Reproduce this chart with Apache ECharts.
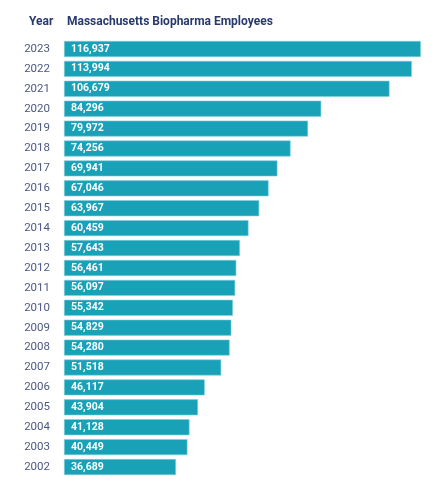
<!DOCTYPE html>
<html>
<head>
<meta charset="utf-8">
<script src="https://cdn.jsdelivr.net/npm/echarts@6/dist/echarts.min.js"></script>
<style>
  html, body { margin: 0; padding: 0; background: #fff; }
  #main { width: 435px; height: 500px; }
</style>
</head>
<body>
<div id="main"></div>
<script>
// years, top to bottom as in the picture
const years = ['2023', '2022', '2021', '2020', '2019', '2018', '2017', '2016', '2015', '2014', '2013',
  '2012', '2011', '2010', '2009', '2008', '2007', '2006', '2005', '2004', '2003', '2002']
const employees = [116937, 113994, 106679, 84296, 79972, 74256, 69941, 67046, 63967, 60459, 57643,
  56461, 56097, 55342, 54829, 54280, 51518, 46117, 43904, 41128, 40449, 36689]

const chart = echarts.init(document.getElementById('main'), null, { renderer: 'canvas' })

const option = {
  animation: false,
  backgroundColor: '#ffffff',
  textStyle: { fontFamily: 'Roboto, sans-serif' },
  graphic: [
    {
      type: 'text', left: 29, top: 16,
      style: { text: 'Year', fontSize: 12, fontWeight: 'bold', fill: '#283a6d', fontFamily: 'Roboto, sans-serif' }
    },
    {
      type: 'text', left: 67, top: 16,
      style: { text: 'Massachusetts Biopharma Employees', fontSize: 12, fontWeight: 'bold', fill: '#283a6d', fontFamily: 'Roboto, sans-serif' }
    }
  ],
  grid: { left: 64, right: 14, top: 39, bottom: 23, containLabel: false },
  xAxis: {
    type: 'value',
    min: 0,
    max: 117000,
    show: false
  },
  yAxis: {
    type: 'category',
    inverse: true,
    data: years,
    axisLine: { show: false },
    axisTick: { show: false },
    axisLabel: { color: '#4b5883', fontSize: 11.5, margin: 14, fontFamily: 'Roboto, sans-serif' }
  },
  series: [{
    type: 'bar',
    data: employees,
    barWidth: 16,
    itemStyle: { color: '#19a1b8', borderColor: '#7fd0dc', borderWidth: 0.6 },
    label: {
      show: true,
      position: 'insideLeft',
      offset: [2, 0],
      color: '#ffffff',
      fontSize: 10.5,
      fontWeight: 'bold',
      fontFamily: 'Roboto, sans-serif',
      formatter: p => p.value.toLocaleString('en-US')
    }
  }]
}

chart.setOption(option)
</script>
</body>
</html>
